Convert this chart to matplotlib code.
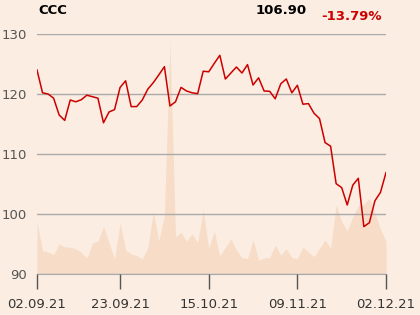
import matplotlib
matplotlib.use('Agg')
import matplotlib.pyplot as plt

# Kurs CCC (Schlusskurse, 64 Handelstage)
price = [124.0, 120.2, 120.0, 119.3, 116.5, 115.6, 119.0, 118.7, 119.05, 119.8,
         119.55, 119.3, 115.2, 117.0, 117.4, 121.1, 122.2, 117.9, 117.9, 119.0,
         120.8, 121.9, 123.2, 124.55, 118.0, 118.7, 121.1, 120.5, 120.2, 120.05,
         123.8, 123.7, 125.1, 126.45, 122.5, 123.5, 124.5, 123.5, 124.9, 121.5,
         122.7, 120.5, 120.45, 119.2, 121.7, 122.5, 120.2, 121.45, 118.3, 118.4,
         116.8, 115.9, 111.9, 111.3, 105.05, 104.4, 101.5, 104.8, 105.95, 97.9,
         98.55, 102.2, 103.6, 106.9]

# Volumen (relative Einheiten)
volume = [51.7, 23.3, 22, 19.3, 30, 27, 26.7, 25.3, 21.7, 15.7,
          30.7, 33, 47.3, 31.3, 14.7, 50.7, 24, 20, 18.7, 15,
          26.7, 61.7, 32.7, 59, 232.3, 37.3, 41.7, 32.7, 40, 31.3,
          64, 25.7, 42.7, 18, 26.7, 35, 24, 16.3, 15.3, 34.3,
          14, 16, 16.3, 28.7, 19, 25, 16.3, 15.3, 27, 22,
          17.3, 25.7, 34, 25.7, 69.3, 52.3, 43, 57.3, 68.3, 70,
          75.7, 60.7, 45, 32.3]

tick_idx = [0, 15, 31, 47, 63]
tick_labels = ['02.09.21', '23.09.21', '15.10.21', '09.11.21', '02.12.21']
y_ticks = [90, 100, 110, 120, 130]

bg = '#fbede1'
x = list(range(len(price)))

fig = plt.figure(figsize=(4.2, 3.15), dpi=100, facecolor=bg)
ax = fig.add_axes([37/420, 41/315, 349/420, 240/315])
ax2 = ax.twinx()

# Volumen als Flaeche im Hintergrund
ax2.fill_between(x, 0, volume, color='#f7dcc7', lw=0)
ax2.set_ylim(0, 240)
ax2.axis('off')

ax.set_zorder(ax2.get_zorder() + 1)
ax.patch.set_visible(False)
ax2.patch.set_facecolor(bg)

ax.plot(x, price, color='#cc0000', lw=1.1, zorder=3)

ax.set_xlim(0, len(price) - 1)
ax.set_ylim(90, 130)
ax.set_yticks(y_ticks)
ax.set_xticks(tick_idx)
ax.set_xticklabels(tick_labels)
ax.grid(axis='y', color='#aaaaaa', lw=1)
ax.set_axisbelow(False)
for s in ['top', 'right', 'left']:
    ax.spines[s].set_visible(False)
ax.spines['bottom'].set_color('#aaaaaa')
ax.tick_params(axis='y', length=0, pad=7, labelsize=9.5, labelcolor='#555555')
ax.tick_params(axis='x', length=10.5, width=1, color='#555555', pad=7,
               labelsize=9.5, labelcolor='#333333')

fig.text(38/420, 1 - 11/315, 'CCC', fontsize=9.5, fontweight='bold', va='center')
fig.text(307/420, 1 - 10/315, '106.90', fontsize=9.5, fontweight='bold',
         va='center', ha='right')
fig.text(382/420, 1 - 17/315, '-13.79%', fontsize=9.5, fontweight='bold',
         va='center', ha='right', color='#cc0000')

plt.savefig('out.png', dpi=100, facecolor=bg)
